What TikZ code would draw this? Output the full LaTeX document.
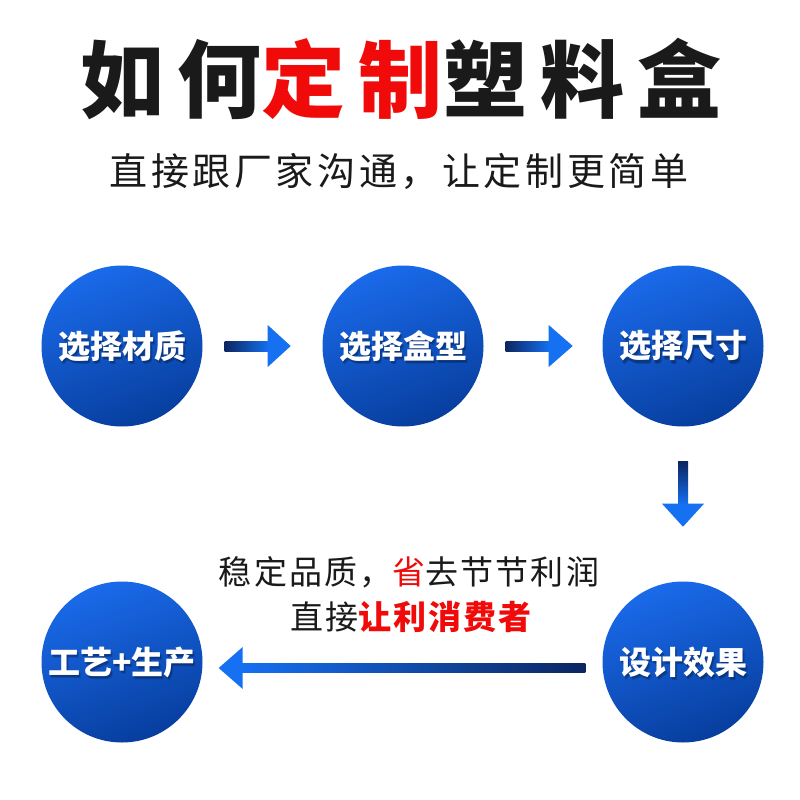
\documentclass[tikz,border=0pt]{standalone}
\usepackage{fontspec}
\newfontfamily\cjk{Noto Sans CJK SC}
\usetikzlibrary{calc}
\definecolor{ctop}{HTML}{1A6AEA}
\definecolor{cbot}{HTML}{073E9E}
\definecolor{abl}{HTML}{1570F2}
\definecolor{adk}{HTML}{0C2660}
\definecolor{tred}{HTML}{F00A0A}
\definecolor{tblk}{HTML}{1A1A1A}
\tikzset{
  circ/.style={circle, minimum size=161pt, inner sep=0pt, top color=ctop, bottom color=cbot, shading angle=20},
  ctext/.style={font=\cjk\bfseries\fontsize{32}{36}\selectfont, text=white, inner sep=0pt},
  cshadow/.style={font=\cjk\bfseries\fontsize{32}{36}\selectfont, text=black, opacity=0.18, inner sep=0pt},
  ahead/.style={fill=abl},
}
\begin{document}
\begin{tikzpicture}[x=1pt,y=-1pt]
\useasboundingbox[fill=white] (0,0) rectangle (800,800);
% title
\node[font=\cjk\bfseries\fontsize{84}{90}\selectfont\addfontfeature{LetterSpace=15.5}, text=tblk, inner sep=0pt] (title) at (401,79)
  {如何\textcolor{tred}{定制}塑料盒};
\node[font=\cjk\fontsize{38}{42}\selectfont\addfontfeature{LetterSpace=9.5}, text=tblk, inner sep=0pt] (sub) at (399,171)
  {直接跟厂家沟通，让定制更简单};
% circles
\node[circ] (c1) at (122,346) {};
\node[circ] (c2) at (403,346) {};
\node[circ] (c3) at (683,346) {};
\node[circ] (c4) at (122,662) {};
\node[circ] (c5) at (683,662) {};
% circle texts with soft shadow
\foreach \n/\t in {c1/选择材质, c2/选择盒型, c3/选择尺寸, c4/工艺+生产, c5/设计效果}{
  \node[cshadow] (\n s) at ($(\n)+(1,2.5)$) {\t};
  \node[cshadow] (\n r) at ($(\n)+(2,3.5)$) {\t};
  \node[ctext] (\n t) at (\n) {\t};
}
% arrow 1
\shade[left color=adk, right color=abl] ($(c1.east)+(22,-5)$) rectangle ($(c1.east)+(66,5)$);
\fill[ahead] ($(c1.east)+(65,-21)$) -- ($(c1.east)+(88,0)$) -- ($(c1.east)+(65,21)$) -- cycle;
% arrow 2
\shade[left color=adk, right color=abl] ($(c2.east)+(22,-5)$) rectangle ($(c2.east)+(66,5)$);
\fill[ahead] ($(c2.east)+(65,-21)$) -- ($(c2.east)+(89,0)$) -- ($(c2.east)+(65,21)$) -- cycle;
% arrow down
\shade[top color=adk, bottom color=abl] ($(c3.south)+(-5,35)$) rectangle ($(c3.south)+(5,78)$);
\fill[ahead] ($(c3.south)+(-21,77)$) -- ($(c3.south)+(0,100)$) -- ($(c3.south)+(21,77)$) -- cycle;
% arrow left
\shade[left color=abl, right color=adk] ($(c4.east)+(38,1.5)$) rectangle ($(c5.west)+(-17,10.5)$);
\fill[ahead] ($(c4.east)+(40,-15)$) -- ($(c4.east)+(16,6)$) -- ($(c4.east)+(40,27)$) -- cycle;
% middle text
\node[font=\cjk\fontsize{33}{36}\selectfont\addfontfeature{LetterSpace=6.5}, text=tblk, inner sep=0pt] (m1) at (409,572)
  {稳定品质，\textcolor{tred}{省}去节节利润};
\node[font=\cjk\fontsize{33}{36}\selectfont\addfontfeature{LetterSpace=6.5}, text=tblk, inner sep=0pt] (m2) at (411,617)
  {直接\textcolor{tred}{\bfseries 让利消费者}};
\end{tikzpicture}
\end{document}
